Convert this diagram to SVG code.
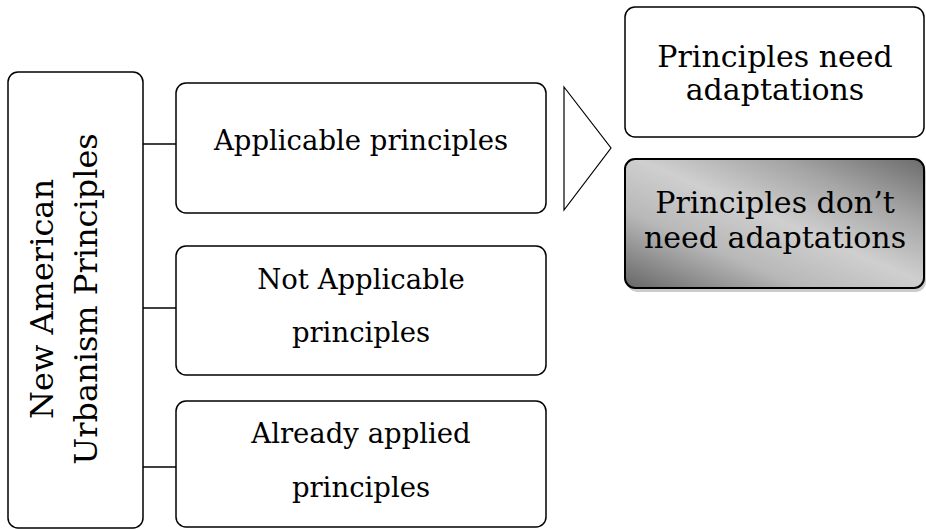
<svg xmlns="http://www.w3.org/2000/svg" width="926" height="529" viewBox="0 0 926 529">
<style>
.box{fill:#fff;stroke:#000;stroke-width:1.5}
.t{font-family:"DejaVu Serif","Liberation Serif",serif;fill:#000;text-anchor:middle}
.m{font-size:27.5px}
.r{font-size:30px}
.v{font-size:32px}
.conn line{stroke:#000;stroke-width:1.5}
</style>
<defs>
<linearGradient id="g" x1="0" y1="1" x2="1" y2="0">
<stop offset="0" stop-color="#666"/>
<stop offset="0.3" stop-color="#b8b8b8"/>
<stop offset="0.52" stop-color="#cfcfcf"/>
<stop offset="0.75" stop-color="#a6a6a6"/>
<stop offset="1" stop-color="#6c6c6c"/>
</linearGradient>
</defs>
<g id="connectors" class="conn">
<line x1="143" y1="144" x2="176" y2="144"/>
<line x1="143" y1="308" x2="176" y2="308"/>
<line x1="143" y1="467" x2="176" y2="467"/>
</g>
<g id="root">
<rect class="box" x="8" y="72" width="135" height="456" rx="10"/>
<text class="t v" transform="translate(53,299) rotate(-90)">New American</text>
<text class="t v" transform="translate(97,299) rotate(-90)">Urbanism Principles</text>
</g>
<g id="applicable">
<rect class="box" x="176" y="83" width="370" height="130" rx="10"/>
<text class="t m" x="361" y="150">Applicable principles</text>
</g>
<g id="not-applicable">
<rect class="box" x="176" y="246" width="370" height="129" rx="10"/>
<text class="t m" x="361" y="289">Not Applicable</text>
<text class="t m" x="361" y="342">principles</text>
</g>
<g id="already">
<rect class="box" x="176" y="401" width="370" height="126" rx="10"/>
<text class="t m" x="361" y="443">Already applied</text>
<text class="t m" x="361" y="497">principles</text>
</g>
<g id="arrow">
<polygon points="564,87 611,148 564,210" fill="#fff" stroke="#000" stroke-width="1.2"/>
</g>
<g id="need">
<rect class="box" x="625" y="7" width="299" height="130" rx="10"/>
<text class="t r" x="775" y="67">Principles need</text>
<text class="t r" x="775" y="100">adaptations</text>
</g>
<g id="dont-need">
<rect x="627" y="162" width="299" height="130" rx="10" fill="#999" opacity="0.5"/>
<rect x="625" y="159" width="299" height="129" rx="10" fill="url(#g)" stroke="#000" stroke-width="2"/>
<text class="t r" x="775" y="213">Principles don’t</text>
<text class="t r" x="775" y="248">need adaptations</text>
</g>
</svg>
